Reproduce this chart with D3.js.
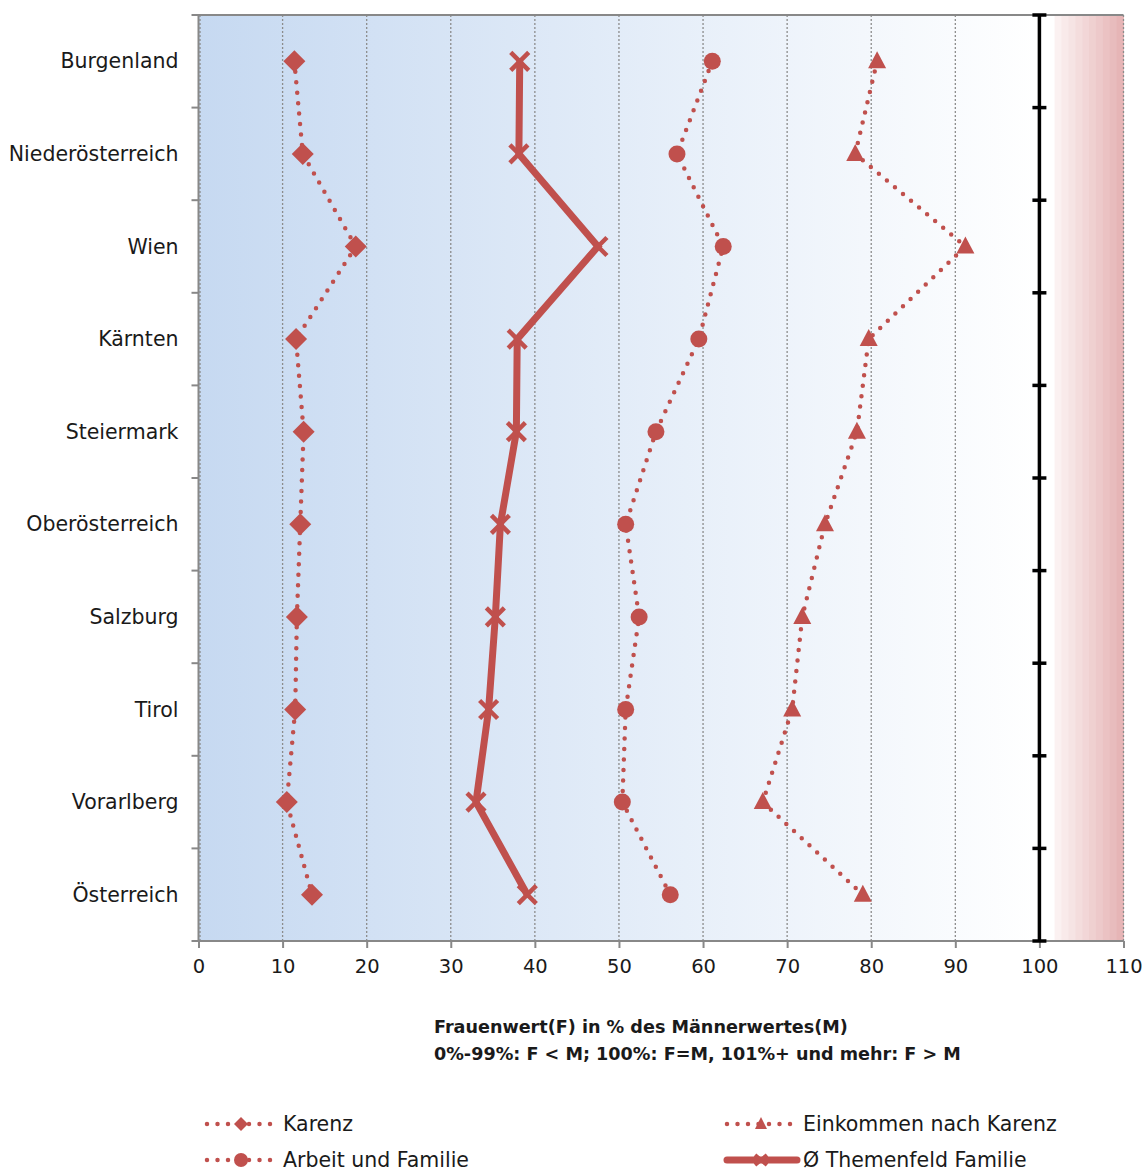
<!DOCTYPE html>
<html><head><meta charset="utf-8">
<script src="https://cdn.jsdelivr.net/npm/d3@7"></script>
<style>
body{margin:0;background:#fff;}
text{font-family:"DejaVu Sans",sans-serif;fill:#1a1a1a;}
</style></head>
<body>
<svg id="c" width="1143" height="1171"></svg>
<script>
const categories = ["Burgenland","Niederösterreich","Wien","Kärnten","Steiermark","Oberösterreich","Salzburg","Tirol","Vorarlberg","Österreich"];
const karenz = [11.4,12.4,18.7,11.6,12.5,12.1,11.7,11.5,10.5,13.5];
const arbeitFamilie = [61.1,56.9,62.4,59.5,54.4,50.8,52.4,50.8,50.4,56.1];
const einkommen = [80.7,78.1,91.2,79.7,78.3,74.5,71.8,70.6,67.1,79.0];
const themenfeld = [38.2,38.1,47.5,37.9,37.8,35.9,35.3,34.5,33.0,39.1];
const xTicks = [0,10,20,30,40,50,60,70,80,90,100,110];
const titleLines = ["Frauenwert(F) in % des Männerwertes(M)","0%-99%: F < M; 100%: F=M, 101%+ und mehr: F > M"];

const svg = d3.select("#c");
const red = "#c0504d";
const L = 198.5, R = 1123.5, T = 15, B = 941;
const x = d3.scaleLinear().domain([0,110]).range([L,R]);
const y = d3.scaleBand().domain(categories).range([T,B]);
const cy = d => y(d) + y.bandwidth()/2;

const defs = svg.append("defs");
const gb = defs.append("linearGradient").attr("id","gb");
gb.append("stop").attr("offset","0%").attr("stop-color","#c6d9f1");
gb.append("stop").attr("offset","100%").attr("stop-color","#ffffff");

svg.append("rect").attr("x",x(0)).attr("y",T).attr("width",x(100)-x(0)).attr("height",B-T).attr("fill","url(#gb)");
// pink stepped region
const pinkSteps = d3.range(0,10);
const pc = d3.interpolateRgb("#fbf1f1","#e6b5b6");
const p0 = x(101.8), pw = (x(110)-p0)/pinkSteps.length;
svg.selectAll(".pk").data(pinkSteps).join("rect")
  .attr("x",i=>p0+i*pw).attr("y",T).attr("width",pw+0.5).attr("height",B-T)
  .attr("fill",i=>pc(i/(pinkSteps.length-1)));

// gridlines
svg.selectAll(".gl").data(xTicks.filter(t=>t>0 && t!==100)).join("line")
  .attr("x1",d=>x(d)).attr("x2",d=>x(d)).attr("y1",T).attr("y2",B)
  .attr("stroke","#8c8c8c").attr("stroke-width",1.3).attr("stroke-dasharray","2,2");
svg.append("line").attr("x1",x(0)+1.5).attr("x2",x(0)+1.5).attr("y1",T).attr("y2",B)
  .attr("stroke","#8c8c8c").attr("stroke-width",1.3).attr("stroke-dasharray","2,2");
// top border
svg.append("line").attr("x1",L-4).attr("x2",R).attr("y1",T).attr("y2",T).attr("stroke","#888").attr("stroke-width",2);

// x axis
const xa = svg.append("g").attr("transform",`translate(0,${B})`)
  .call(d3.axisBottom(x).tickValues(xTicks).tickSize(7).tickPadding(11).tickFormat(d3.format("d")));
xa.select(".domain").attr("stroke","#888").attr("stroke-width",2).attr("d",`M${L-6},0H${R}`);
xa.selectAll(".tick line").attr("stroke","#888").attr("stroke-width",2);
xa.selectAll(".tick text").style("font-size","19.5px").attr("fill","#1a1a1a").style("font-family","DejaVu Sans");

// y axis
const bounds = categories.map(c=>y(c)).concat([B]);
svg.append("line").attr("x1",L).attr("x2",L).attr("y1",T).attr("y2",B).attr("stroke","#888").attr("stroke-width",2);
svg.selectAll(".yt").data(bounds).join("line").attr("x1",L-7).attr("x2",L).attr("y1",d=>d).attr("y2",d=>d)
  .attr("stroke","#888").attr("stroke-width",2);
svg.selectAll(".yl").data(categories).join("text").attr("x",L-20).attr("y",d=>cy(d))
  .attr("text-anchor","end").attr("dominant-baseline","central").style("font-size","20.5px").text(d=>d);

// black 100 line
svg.append("line").attr("x1",x(100)).attr("x2",x(100)).attr("y1",T).attr("y2",B).attr("stroke","#000").attr("stroke-width",3.5);
svg.selectAll(".bt").data(bounds).join("line").attr("x1",x(100)-7).attr("x2",x(100)+7).attr("y1",d=>d).attr("y2",d=>d)
  .attr("stroke","#000").attr("stroke-width",3.5);

// series
const line = d3.line().x(d=>x(d.v)).y(d=>cy(d.c));
function pts(arr){return categories.map((c,i)=>({c,v:arr[i]}));}
function dotted(arr){
  svg.append("path").datum(pts(arr)).attr("d",line).attr("fill","none").attr("stroke",red)
    .attr("stroke-width",4.5).attr("stroke-linecap","round").attr("stroke-dasharray","0,10.5");
}
dotted(karenz); dotted(arbeitFamilie); dotted(einkommen);
svg.append("path").datum(pts(themenfeld)).attr("d",line).attr("fill","none").attr("stroke",red).attr("stroke-width",7);

function diamond(g){g.append("path").attr("d","M0,-11L11,0L0,11L-11,0Z").attr("fill",red);}
svg.selectAll(".mk").data(pts(karenz)).join("g").attr("transform",d=>`translate(${x(d.v)},${cy(d.c)})`).each(function(){diamond(d3.select(this));});
svg.selectAll(".ma").data(pts(arbeitFamilie)).join("circle").attr("cx",d=>x(d.v)).attr("cy",d=>cy(d.c)).attr("r",8.5).attr("fill",red);
svg.selectAll(".me").data(pts(einkommen)).join("path").attr("transform",d=>`translate(${x(d.v)},${cy(d.c)})`)
  .attr("d","M0,-10L9,7L-9,7Z").attr("fill",red);
svg.selectAll(".mt").data(pts(themenfeld)).join("path").attr("transform",d=>`translate(${x(d.v)},${cy(d.c)})`)
  .attr("d","M-9,-9L9,9M9,-9L-9,9").attr("stroke",red).attr("stroke-width",4.5).attr("fill","none");

// title
svg.selectAll(".tt").data(titleLines).join("text").attr("x",434).attr("y",(d,i)=>1033+i*27)
  .style("font-size","17.6px").style("font-weight","bold").text(d=>d);

// legend
const legend = [
  {name:"Karenz",x:205,y:1124,kind:"diamond"},
  {name:"Arbeit und Familie",x:205,y:1160,kind:"circle"},
  {name:"Einkommen nach Karenz",x:725,y:1124,kind:"triangle"},
  {name:"Ø Themenfeld Familie",x:725,y:1160,kind:"x"}
];
legend.forEach(l=>{
  const g = svg.append("g").attr("transform",`translate(${l.x},${l.y})`);
  if(l.kind==="x"){
    g.append("line").attr("x1",2).attr("x2",72).attr("stroke",red).attr("stroke-width",7).attr("stroke-linecap","round");
    g.append("path").attr("d","M30,-5L42,5M42,-5L30,5").attr("stroke",red).attr("stroke-width",4);
  } else {
    g.append("line").attr("x1",2).attr("x2",72).attr("stroke",red).attr("stroke-width",4.5)
      .attr("stroke-linecap","round").attr("stroke-dasharray","0,10.5");
    if(l.kind==="diamond") g.append("path").attr("d","M36,-7L43,0L36,7L29,0Z").attr("fill",red);
    if(l.kind==="circle") g.append("circle").attr("cx",36).attr("r",7).attr("fill",red);
    if(l.kind==="triangle") g.append("path").attr("d","M36,-7L42,5L30,5Z").attr("fill",red);
  }
  g.append("text").attr("x",78).attr("dominant-baseline","central").style("font-size","20.5px").text(l.name);
});
</script>
</body></html>
